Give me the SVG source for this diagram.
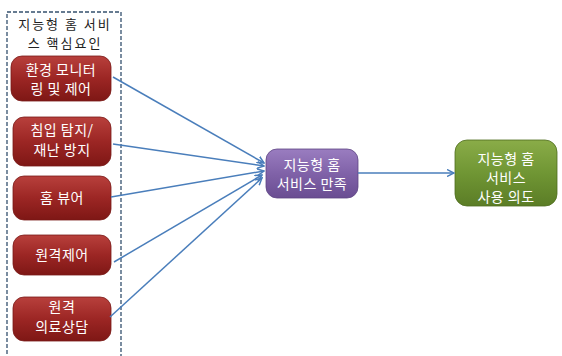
<svg xmlns="http://www.w3.org/2000/svg" width="562" height="356" viewBox="0 0 562 356">
<defs>
<linearGradient id="gr" x1="0" y1="0" x2="0" y2="1"><stop offset="0" stop-color="#b8403c"/><stop offset="0.5" stop-color="#9c2624"/><stop offset="1" stop-color="#7e1715"/></linearGradient>
<linearGradient id="gp" x1="0" y1="0" x2="0" y2="1"><stop offset="0" stop-color="#9a7dc0"/><stop offset="0.5" stop-color="#8062a8"/><stop offset="1" stop-color="#6a4d92"/></linearGradient>
<linearGradient id="gg" x1="0" y1="0" x2="0" y2="1"><stop offset="0" stop-color="#8aac48"/><stop offset="0.5" stop-color="#709634"/><stop offset="1" stop-color="#5b7d26"/></linearGradient>
<marker id="ah" markerWidth="8" markerHeight="8" refX="7" refY="4" orient="auto" markerUnits="userSpaceOnUse"><path d="M0,0.5 L7,4 L0,7.5" fill="none" stroke="#4a7ebb" stroke-width="1.5"/></marker>
</defs>
<style>
.t{font-family:"Noto Sans CJK KR","Noto Sans",sans-serif;font-size:14px;letter-spacing:0.5px;fill:#fff;text-anchor:middle}
.h{font-family:"Noto Sans CJK KR","Noto Sans",sans-serif;font-size:13px;letter-spacing:2px;fill:#222;text-anchor:middle}
.r{fill:url(#gr);stroke:#7a1a18;stroke-width:0.8}
.c{stroke:#4a7ebb;stroke-width:1.5;fill:none;marker-end:url(#ah)}
</style>
<rect width="562" height="356" fill="#fff"/>
<g id="frame">
<rect x="7" y="12" width="114" height="360" fill="none" stroke="#34506e" stroke-width="1.3" stroke-dasharray="4,2"/>
<text class="h" x="65" y="29">지능형 홈 서비</text>
<text class="h" x="65" y="48">스 핵심요인</text>
</g>
<g id="n1"><rect class="r" x="11" y="56" width="100" height="45" rx="11"/><text class="t" x="61" y="75">환경 모니터</text><text class="t" x="61" y="94">링 및 제어</text></g>
<g id="n2"><rect class="r" x="13" y="117" width="98" height="49" rx="11"/><text class="t" x="62" y="135">침입 탐지/</text><text class="t" x="62" y="155">재난 방지</text></g>
<g id="n3"><rect class="r" x="13" y="176" width="98" height="44" rx="11"/><text class="t" x="62" y="203">홈 뷰어</text></g>
<g id="n4"><rect class="r" x="13" y="235" width="98" height="40" rx="11"/><text class="t" x="62" y="260">원격제어</text></g>
<g id="n5"><rect class="r" x="13" y="297" width="98" height="44" rx="11"/><text class="t" x="62" y="312">원격</text><text class="t" x="62" y="332">의료상담</text></g>
<g id="n6"><rect x="266" y="149" width="92" height="49" rx="11" fill="url(#gp)" stroke="#5e4584" stroke-width="0.8"/><text class="t" x="312" y="170">지능형 홈</text><text class="t" x="312" y="189">서비스 만족</text></g>
<g id="n7"><rect x="455" y="140" width="102" height="66" rx="12" fill="url(#gg)" stroke="#4f6d20" stroke-width="0.8"/><text class="t" x="506" y="164">지능형 홈</text><text class="t" x="506" y="183">서비스</text><text class="t" x="506" y="202">사용 의도</text></g>
<g id="connectors">
<line class="c" x1="113" y1="77" x2="264" y2="163"/>
<line class="c" x1="113" y1="144" x2="264" y2="166"/>
<line class="c" x1="111" y1="197" x2="264" y2="171"/>
<line class="c" x1="114" y1="262" x2="262" y2="175"/>
<line class="c" x1="110" y1="317" x2="262" y2="178"/>
<line class="c" x1="358" y1="173" x2="454" y2="173"/>
</g>
</svg>
